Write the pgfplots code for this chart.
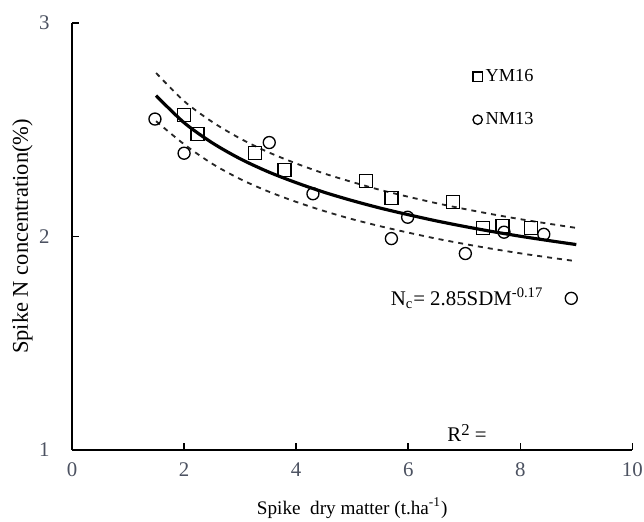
\documentclass[border=0pt]{standalone}
\usepackage{fontspec}
\setmainfont{Liberation Serif}
\usepackage{pgfplots}
\pgfplotsset{compat=1.18}
\usetikzlibrary{calc}

\definecolor{ticktext}{rgb}{0.30,0.32,0.38}

\begin{document}
\begin{tikzpicture}
\begin{axis}[
  name=ax,
  scale only axis,
  width=336pt, height=256pt,
  xmin=0, xmax=10, ymin=1, ymax=3,
  axis x line*=bottom, axis y line*=left,
  axis line style={line width=0.9pt},
  xtick={0,2,...,10}, ytick={1,2,3},
  tick align=inside, major tick length=4pt,
  tick style={line width=0.9pt, black},
  ticklabel style={text=ticktext, font=\fontsize{12.5}{14}\selectfont},
  /pgf/number format/assume math mode=true,
  xticklabel style={yshift=-4pt},
  yticklabel style={xshift=-10pt},
  xlabel={Spike\ \ dry matter (t.ha\textsuperscript{-1})},
  ylabel={Spike N concentration(\%)},
  xlabel style={font=\fontsize{11.5}{13}\selectfont, yshift=-6pt},
  ylabel style={font=\fontsize{13.5}{15}\selectfont, yshift=-3pt},
  clip=false,
  legend style={draw=none, fill=none, at={(rel axis cs:0.715,0.90)}, anchor=north west,
    font=\fontsize{11}{13}\selectfont, row sep=13pt, inner sep=0pt},
  legend cell align=left,
  legend image code/.code={\draw[#1, mark size=2.8pt] plot coordinates {(0.14cm,0cm)};},
]
% YM16
\addplot[only marks, mark=square, mark size=3.9pt, line width=0.8pt, black] coordinates {
  (2.00,2.57) (2.24,2.48) (3.27,2.39) (3.79,2.31) (5.25,2.26)
  (5.70,2.18) (6.80,2.16) (7.34,2.04) (7.68,2.05) (8.19,2.04)
};
\addlegendentry{YM16}
% NM13
\addplot[only marks, mark=o, mark size=3.6pt, line width=0.8pt, black] coordinates {
  (1.48,2.55) (2.00,2.39) (3.52,2.44) (4.30,2.20) (5.70,1.99)
  (5.99,2.09) (7.02,1.92) (7.71,2.02) (8.42,2.01) (8.91,1.71)
};
\addlegendentry{NM13}
% fitted curve
\addplot[black, line width=1.9pt, smooth, forget plot] coordinates {
  (1.5,2.660) (2,2.533) (2.5,2.439) (3,2.364) (3.5,2.303) (4,2.252)
  (4.5,2.207) (5,2.168) (5.5,2.133) (6,2.102) (6.5,2.073) (7,2.047)
  (7.5,2.023) (8,2.001) (8.5,1.981) (9,1.962)
};
% upper band
\addplot[black!85, line width=1.1pt, dash pattern=on 3pt off 3pt, smooth, forget plot] coordinates {
  (1.5,2.766) (2,2.634) (2.5,2.537) (3,2.459) (3.5,2.395) (4,2.342)
  (4.5,2.295) (5,2.255) (5.5,2.218) (6,2.186) (6.5,2.156) (7,2.129)
  (7.5,2.104) (8,2.081) (8.5,2.060) (9,2.040)
};
% lower band
\addplot[black!85, line width=1.1pt, dash pattern=on 3pt off 3pt, smooth, forget plot] coordinates {
  (1.5,2.540) (2,2.432) (2.5,2.341) (3,2.269) (3.5,2.211) (4,2.162)
  (4.5,2.119) (5,2.081) (5.5,2.048) (6,2.018) (6.5,1.990) (7,1.965)
  (7.5,1.942) (8,1.921) (8.5,1.902) (9,1.884)
};
\node[font=\fontsize{12.5}{14}\selectfont] at (axis cs:7.05,1.71) {N\textsubscript{c}= 2.85SDM\textsuperscript{-0.17}};
\node[font=\fontsize{12.5}{14}\selectfont] at (axis cs:7.05,1.08) {R{\fontsize{10}{10}\selectfont\raisebox{0.35em}{2}} =};
\end{axis}
\pgfresetboundingbox
\path[use as bounding box] ([xshift=-43.2pt,yshift=-43.2pt]ax.south west) rectangle ([xshift=7pt,yshift=13.8pt]ax.north east);
\end{tikzpicture}
\end{document}
